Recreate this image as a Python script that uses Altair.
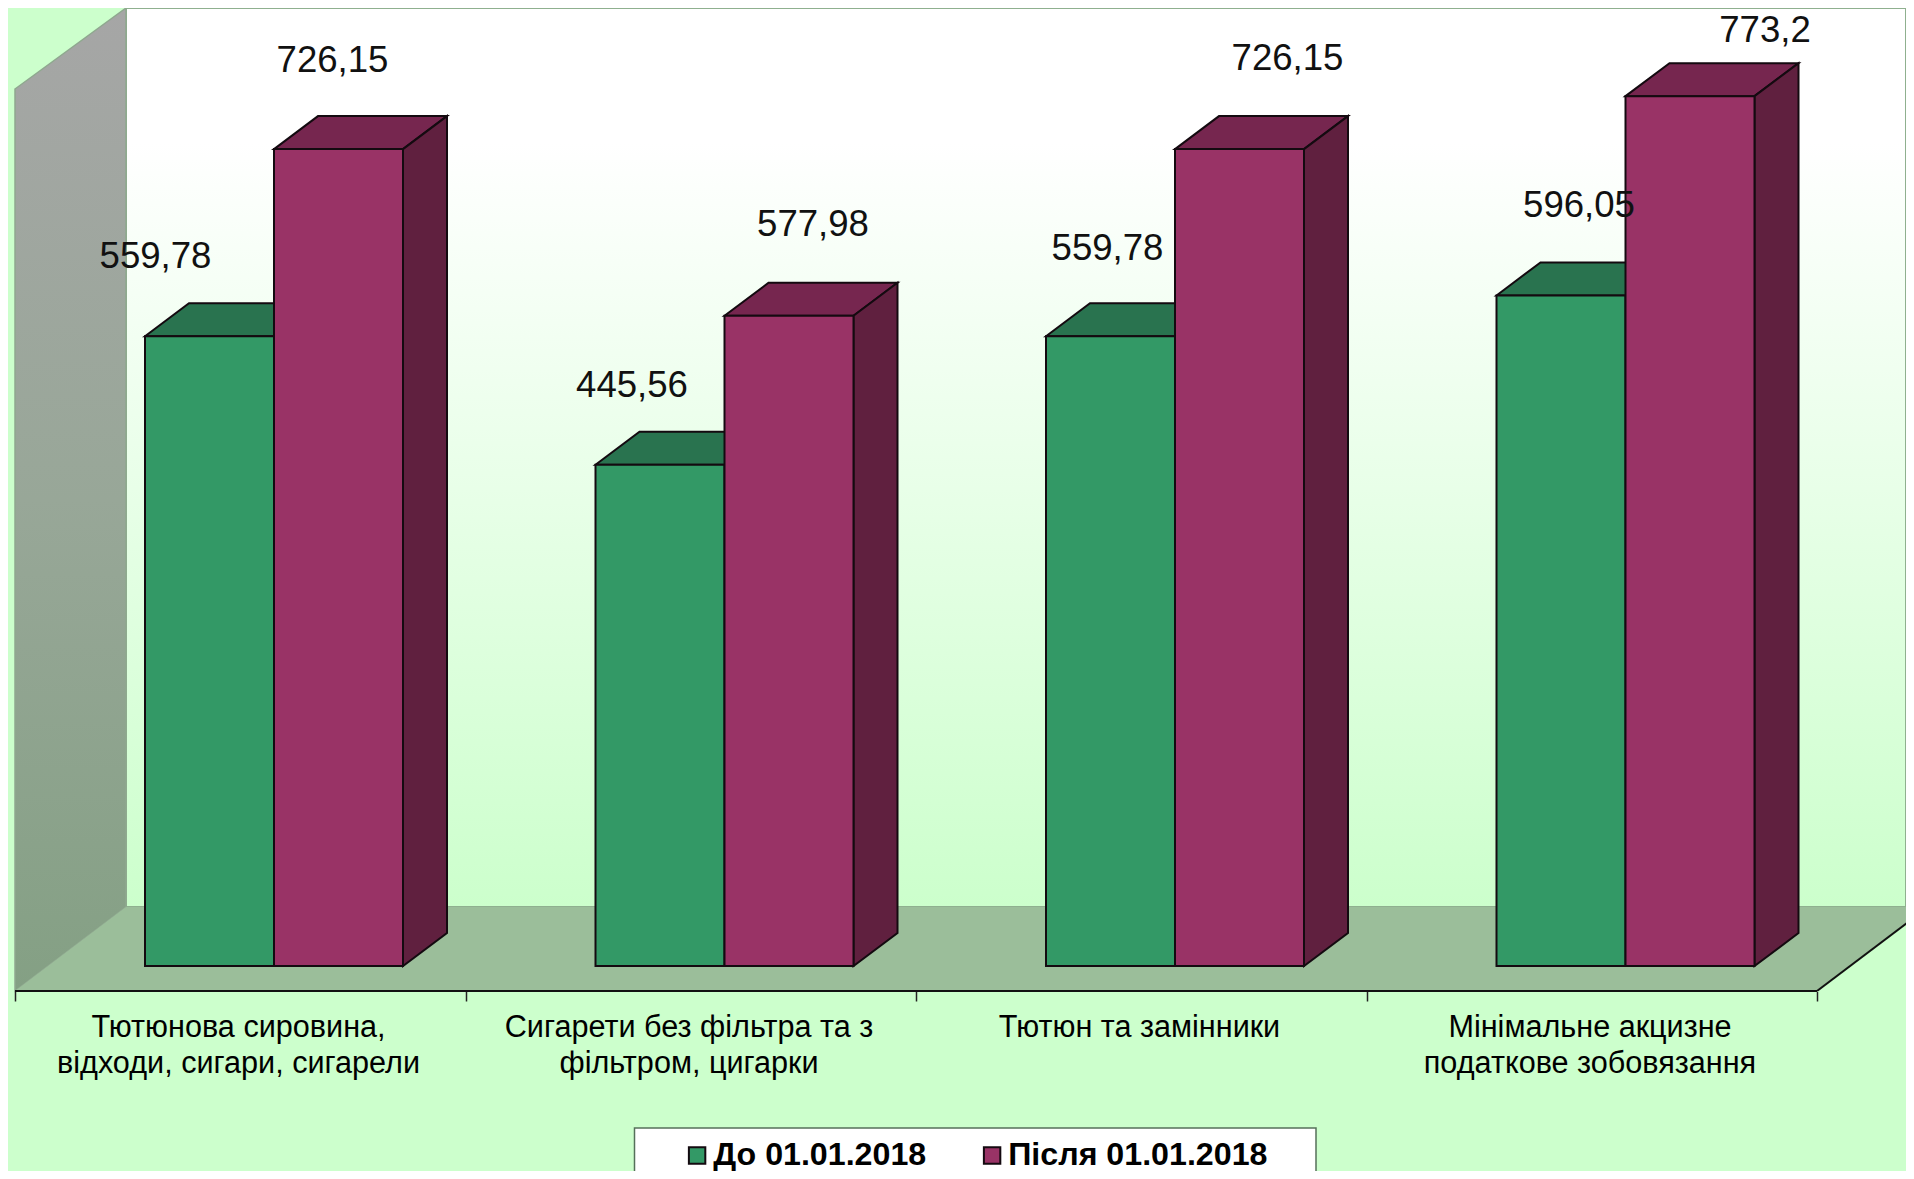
import altair as alt
import pandas as pd

CATEGORY_LINES = [
    ["Тютюнова сировина,", "відходи, сигари, сигарели"],
    ["Сигарети без фільтра та з", "фільтром, цигарки"],
    ["Тютюн та замінники"],
    ["Мінімальне акцизне", "податкове зобовязання"],
]
SERIES = ["До 01.01.2018", "Після 01.01.2018"]
BEFORE = [559.78, 445.56, 559.78, 596.05]
AFTER = [726.15, 577.98, 726.15, 773.2]

BG = "#CCFFCC"
GREEN, PURPLE = "#339966", "#993366"
GREEN_TOP, PURPLE_TOP, PURPLE_SIDE = "#29734F", "#76264F", "#60203F"
EDGE = "#140A10"

# scale geometry
PX_X, PX_Y = 450.5, 1.125
W, H = 1898, 983
X_MIN = -7 / PX_X
X_MAX = X_MIN + W / PX_X
Y_MIN = -25 / PX_Y
Y_MAX = Y_MIN + H / PX_Y
BAR_OFF, BAR_W = 130 / PX_X, 129 / PX_X
DX, DY = 44 / PX_X, 33 / PX_Y
WALL_DX, WALL_DY = 111 / PX_X, 84 / PX_Y
WALL_TOP = Y_MAX
WALL_FRONT_TOP = Y_MAX - 81 / PX_Y

# label nudges (px right, px above the bar front's top edge)
NUDGE_B = [(-54, 68), (-28, 68), (-3, 76), (18, 78)]
NUDGE_A = [(-6, 77), (24, 80), (48, 79), (75, 54)]

fronts, tops, sides, labels = [], [], [], []
for i in range(4):
    for s, vals, off, nudge in ((0, BEFORE, 0.0, NUDGE_B), (1, AFTER, BAR_W, NUDGE_A)):
        v = vals[i]
        x0 = i + BAR_OFF + off
        x1 = x0 + BAR_W
        fronts.append(dict(series=SERIES[s], x=x0, x2=x1, y=v, y2=0.0))
        key = f"{i}-{s}"
        for x, y, y2 in ((x0, v, v), (x0 + DX, v + DY, v), (x1, v + DY, v), (x1 + DX, v + DY, v + DY)):
            tops.append(dict(key=key, s=s, x=x, y=y, y2=y2))
        for x, y, y2 in ((x1, v, 0.0), (x1 + DX, v + DY, DY)):
            sides.append(dict(key=key, s=s, x=x, y=y, y2=y2))
        labels.append(dict(
            text=str(v).replace(".", ","),
            x=(x0 + x1) / 2 + nudge[i][0] / PX_X,
            y=v + nudge[i][1] / PX_Y,
        ))

tops, sides = pd.DataFrame(tops), pd.DataFrame(sides)
x_scale = alt.Scale(domain=[X_MIN, X_MAX], nice=False, zero=False)
y_scale = alt.Scale(domain=[Y_MIN, Y_MAX], nice=False, zero=False)

label_expr = "[" + ",".join(
    "[" + ",".join(f"'{t}'" for t in lines) + "]" for lines in CATEGORY_LINES
) + ",''][datum.value]"

X = alt.X(
    "x:Q", scale=x_scale, title=None,
    axis=alt.Axis(
        values=[0, 1, 2, 3, 4], labelExpr=label_expr, labelOffset=223, domain=False,
        grid=False, tickSize=10, tickWidth=1.5, tickColor="#222", labelFontSize=30.6,
        labelFont="Liberation Sans", labelColor="#000", labelPadding=11, labelLineHeight=36,
        labelAngle=0, labelAlign="center", labelBaseline="top", labelOverlap=False, labelBound=False,
        labelFlush=False, labelLimit=600,
    ),
)
Y = alt.Y("y:Q", scale=y_scale, axis=None, title=None)


def grad(stops):
    return alt.LinearGradient(
        gradient="linear", x1=0, x2=0, y1=0, y2=1,
        stops=[alt.GradientStop(offset=o, color=c) for o, c in stops],
    )


back = alt.Chart(pd.DataFrame([dict(x=WALL_DX, x2=X_MAX, y=WALL_TOP, y2=Y_MIN + WALL_DY)])).mark_rect(
    fill=grad([(0, "#FFFFFF"), (0.15, "#FFFFFF"), (1, BG)]), stroke="#8FB08F", strokeWidth=2, clip=True
).encode(x=X, x2="x2:Q", y=Y, y2="y2:Q")

wall = alt.Chart(pd.DataFrame([
    dict(x=0.0, y=WALL_FRONT_TOP, y2=Y_MIN),
    dict(x=WALL_DX, y=WALL_TOP, y2=Y_MIN + WALL_DY),
])).mark_area(
    fill=grad([(0, "#A6A6A6"), (0.5, "#98A798"), (1, "#84A084")]), stroke="#8FA88F", strokeWidth=1.5
).encode(x=X, y=Y, y2="y2:Q")

floor = alt.Chart(pd.DataFrame([
    dict(x=0.0, y=Y_MIN, y2=Y_MIN),
    dict(x=WALL_DX, y=Y_MIN + WALL_DY, y2=Y_MIN),
    dict(x=4.0, y=Y_MIN + WALL_DY, y2=Y_MIN),
    dict(x=4.0 + WALL_DX, y=Y_MIN + WALL_DY, y2=Y_MIN + WALL_DY),
])).mark_area(fill="#9BBE9A", clip=True).encode(x=X, y=Y, y2="y2:Q")

front_line = alt.Chart(pd.DataFrame([dict(x=0.0, x2=4.0, y=Y_MIN)])).mark_rule(
    color="#111", strokeWidth=2, clip=False
).encode(x=X, x2="x2:Q", y=Y)

corner_line = alt.Chart(pd.DataFrame([
    dict(x=4.0, y=Y_MIN), dict(x=4.0 + WALL_DX, y=Y_MIN + WALL_DY),
])).mark_line(color="#111", strokeWidth=2, clip=True).encode(x=X, y=Y)

top_layers = [
    alt.Chart(tops[tops.s == s]).mark_area(fill=c, stroke=EDGE, strokeWidth=2).encode(
        x=X, y=Y, y2="y2:Q", detail="key:N"
    )
    for s, c in ((0, GREEN_TOP), (1, PURPLE_TOP))
]
side_layer = alt.Chart(sides[sides.s == 1]).mark_area(fill=PURPLE_SIDE, stroke=EDGE, strokeWidth=2).encode(
    x=X, y=Y, y2="y2:Q", detail="key:N"
)

front_layer = alt.Chart(pd.DataFrame(fronts)).mark_rect(stroke=EDGE, strokeWidth=2).encode(
    x=X, x2="x2:Q", y=Y, y2="y2:Q",
    color=alt.Color(
        "series:N",
        scale=alt.Scale(domain=SERIES, range=[GREEN, PURPLE]),
        legend=alt.Legend(
            title=None, orient="none", legendX=626, legendY=1118, direction="horizontal", columns=2,
            padding=13, symbolType="square", symbolSize=270,
            symbolStrokeColor=EDGE, symbolStrokeWidth=2, symbolOffset=34, labelFont="Liberation Sans",
            labelFontSize=32.2, labelFontWeight="bold", labelColor="#000", labelOffset=0, columnPadding=15,
            labelLimit=400,
        ),
    ),
)

# white box behind the legend entries
legend_box = alt.Chart(pd.DataFrame([dict(
    x=(634.5 - 15) / PX_X, x2=(1316 - 15) / PX_X, y=(966 - 1128) / PX_Y, y2=(966 - 1200) / PX_Y
)])).mark_rect(fill="#FFFFFF", stroke="#55705A", strokeWidth=1.5).encode(x=X, x2="x2:Q", y=Y, y2="y2:Q")

text_layer = alt.Chart(pd.DataFrame(labels)).mark_text(
    font="Liberation Sans", fontSize=36.6, color="#111", baseline="alphabetic", align="center"
).encode(x=X, y=Y, text="text:N")

chart = alt.layer(
    back, wall, floor, front_line, corner_line, *top_layers, side_layer, front_layer, legend_box, text_layer
).properties(
    width=W, height=H, background=BG,
    padding={"left": 0, "top": 0, "right": 0, "bottom": 180},
    autosize=alt.AutoSizeParams(type="none"),
).configure_view(stroke=None)

chart.save("out.html", embed_options={"renderer": "svg", "actions": False})
